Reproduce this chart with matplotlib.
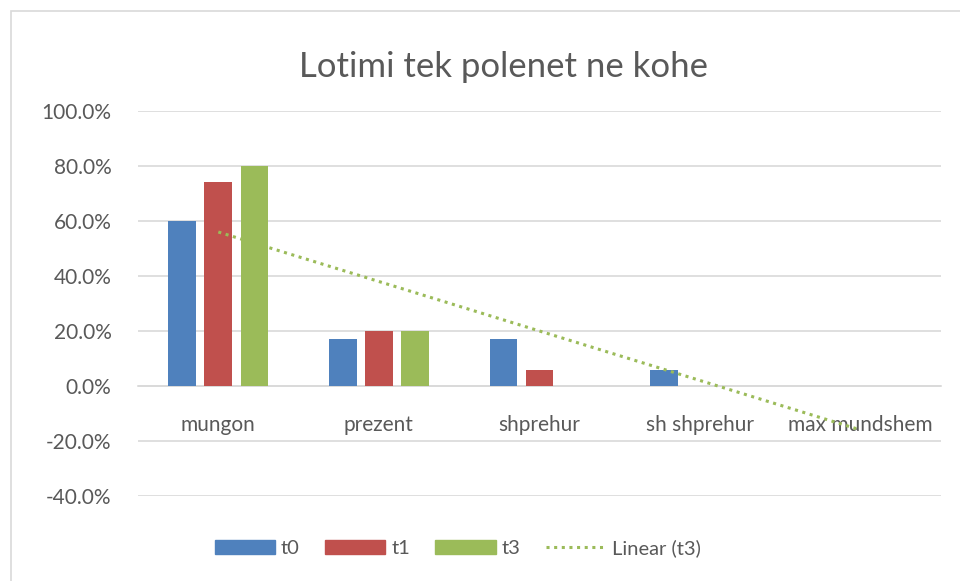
import numpy as np
import matplotlib
matplotlib.use("Agg")
import matplotlib.pyplot as plt
from matplotlib.patches import Rectangle, Patch
from matplotlib.lines import Line2D
from matplotlib.ticker import FuncFormatter

categories = ["mungon", "prezent", "shprehur", "sh shprehur", "max mundshem"]
t0 = [60.0, 17.1, 17.1, 5.7, 0.0]
t1 = [74.3, 20.0, 5.7, 0.0, 0.0]
t3 = [80.0, 20.0, 0.0, 0.0, 0.0]
title = "Lotimi tek polenet ne kohe"

plt.rcParams['font.family'] = ['Lato', 'DejaVu Sans']
txt = '#595959'
grid = '#D9D9D9'
colors = ['#4F81BD', '#C0504D', '#9BBB59']

fig = plt.figure(figsize=(9.6, 5.81), dpi=100)
ax = fig.add_axes([138/960, 1 - 496/581, (941 - 138)/960, (496 - 111)/581])

# chart border like excel
fig.patches.append(Rectangle((11/960, -0.1), 1.2, 1.1 - 11/581, transform=fig.transFigure,
                             fill=False, edgecolor=grid, lw=1.2))

x = np.arange(len(categories))
w = 0.172
step = 0.225
for i, (vals, c) in enumerate(zip([t0, t1, t3], colors)):
    ax.bar(x + (i - 1) * step, vals, width=w, color=c, zorder=3)

# linear trend for t3
k, b = np.polyfit(x, t3, 1)
ax.plot(x, k * x + b, color=colors[2], lw=2.2, linestyle=(0, (1, 1.5)), zorder=4)

ax.set_xlim(-0.5, 4.5)
ax.set_ylim(-40, 100)
ax.set_yticks(np.arange(-40, 101, 20))
ax.yaxis.set_major_formatter(FuncFormatter(lambda v, p: f"{v:.1f}%"))
ax.yaxis.grid(True, color=grid, lw=1.2, zorder=0)
ax.set_axisbelow(True)

for s in ['top', 'right', 'left']:
    ax.spines[s].set_visible(False)
ax.spines['bottom'].set_position(('data', 0))
ax.spines['bottom'].set_color(grid)
ax.spines['bottom'].set_linewidth(1.2)

ax.set_xticks(x)
ax.set_xticklabels(categories)
ax.tick_params(axis='x', length=0, pad=21, labelsize=15, labelcolor=txt)
ax.tick_params(axis='y', length=0, pad=19, labelsize=15, labelcolor=txt)

fig.text(0.524, 1 - 67/581, title, ha='center', va='center', fontsize=25, color=txt)

handles = [Patch(color=colors[0]), Patch(color=colors[1]), Patch(color=colors[2]),
           Line2D([], [], color=colors[2], lw=2.2, linestyle=(0, (1, 1.5)))]
labels = ['t0', 't1', 't3', 'Linear (t3)']
fig.legend(handles, labels, loc='center', bbox_to_anchor=(0.477, 1 - 548/581), ncol=4,
           frameon=False, fontsize=14.5, labelcolor=txt, handlelength=3.0,
           handleheight=0.65, columnspacing=1.25, handletextpad=0.3)

fig.savefig("out.png", dpi=100, facecolor='white')
